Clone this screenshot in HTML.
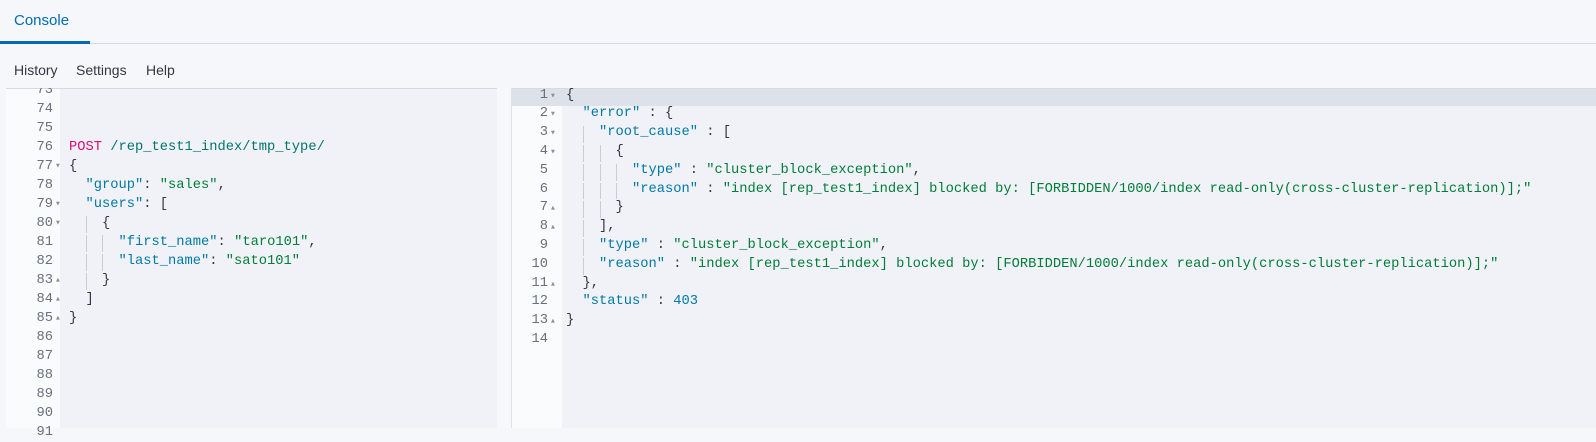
<!DOCTYPE html>
<html><head><meta charset="utf-8"><style>
*{margin:0;padding:0;box-sizing:border-box}
body{width:1596px;height:428px;overflow:hidden;background:#f5f7fa;font-family:"Liberation Sans",sans-serif;position:relative}
.hdr{position:absolute;left:0;top:0;width:1596px;height:44px;border-bottom:1px solid #d3dae6;background:#f5f7fa}
.tab{position:absolute;left:14px;top:12px;font-size:15px;color:#006bb4}
.ul{position:absolute;left:0;top:41px;width:90px;height:3px;background:#006bb4}
.menu{position:absolute;top:62px;font-size:14px;color:#343741}
.pane{position:absolute;top:88px;height:340px;overflow:hidden}
.g,.c{font-family:"Liberation Mono",monospace;font-size:13.75px}
.g{position:absolute;white-space:pre;color:#69707d}
.c{position:absolute;white-space:pre;color:#343741}
.k{color:#0079a5}.s{color:#017d3a}.p{color:#dd0a73}.u{color:#00756c}.n{color:#0079a5}
.ar{position:absolute;font-size:5px;color:#8a8f99;font-family:"DejaVu Sans",sans-serif}
.guide{position:absolute;width:1px;background:#c9ccd3}
</style></head><body>
<div class="hdr"><div class="tab">Console</div><div class="ul"></div></div>
<div class="menu" style="left:14px">History</div>
<div class="menu" style="left:76px">Settings</div>
<div class="menu" style="left:146px">Help</div>

<div class="pane" style="left:6px;width:491px;background:#f1f2f7;border-top:1px solid #d3dae6">
<div style="position:absolute;left:0;top:0;width:54px;height:340px;background:#fafbfd"></div>
</div>
<div style="position:absolute;left:497px;top:88px;width:15px;height:340px;background:#f7f8fb;border-right:1px solid #dfe2ea"></div>

<div class="pane" style="left:512px;width:1084px;background:#f1f2f7;border-top:1px solid #d3dae6">
<div style="position:absolute;left:0;top:0;width:50px;height:340px;background:#fafbfd"></div>
<div style="position:absolute;left:0;top:0;width:1084px;height:17px;background:#dde1e9"></div>
</div>

<script>
function build(gutR,codeX,top,lh,first,lines,clipTop){
 let h='';
 lines.forEach((l,i)=>{
  const y=top+i*lh, n=first+i;
  const clip = y<clipTop ? `clip-path:inset(${clipTop-y}px 0 0 0);` : '';
  h+=`<div class="g" style="right:${1596-gutR}px;top:${y}px;line-height:${lh}px;${clip}">${n}</div>`;
  if(l[1]) h+=`<div class="ar" style="left:${gutR+3}px;top:${y}px;line-height:${lh}px">${l[1]=='d'?'▼':'▲'}</div>`;
  h+=`<div class="c" style="left:${codeX}px;top:${y}px;line-height:${lh}px">${l[0]}</div>`;
  (l[2]||[]).forEach(gx=>{h+=`<div class="guide" style="left:${gx}px;top:${y+2}px;height:${lh-2}px"></div>`;});
 });
 document.body.insertAdjacentHTML('beforeend',h);
}
const K=t=>`<span class="k">"${t}"</span>`, S=t=>`<span class="s">"${t}"</span>`;
const L=[
 ['',''],['',''],['',''],
 ['<span class="p">POST</span> <span class="u">/rep_test1_index/tmp_type/</span>',''],
 ['{','d'],
 ['  '+K('group')+': '+S('sales')+',',''],
 ['  '+K('users')+': [','d'],
 ['    {','d',[86]],
 ['      '+K('first_name')+': '+S('taro101')+',','',[86,102]],
 ['      '+K('last_name')+': '+S('sato101'),'',[86,102]],
 ['    }','u',[86]],
 ['  ]','u'],
 ['}','u'],
 ['',''],['',''],['',''],['',''],['',''],['','']
];
build(53,69,80.5,19,73,L,88);
const R=[
 ['{','d'],
 ['  '+K('error')+' : {','d'],
 ['    '+K('root_cause')+' : [','d',[583]],
 ['      {','d',[583,600]],
 ['        '+K('type')+' : '+S('cluster_block_exception')+',','',[583,600,616]],
 ['        '+K('reason')+' : '+S('index [rep_test1_index] blocked by: [FORBIDDEN/1000/index read-only(cross-cluster-replication)];'),'',[583,600,616]],
 ['      }','u',[583,600]],
 ['    ],','u',[583]],
 ['    '+K('type')+' : '+S('cluster_block_exception')+',','',[583]],
 ['    '+K('reason')+' : '+S('index [rep_test1_index] blocked by: [FORBIDDEN/1000/index read-only(cross-cluster-replication)];'),'',[583]],
 ['  },','u'],
 ['  '+K('status')+' : <span class="n">403</span>',''],
 ['}','u'],
 ['','']
];
build(548,566,86.6,18.8,1,R,0);
</script>
</body></html>
